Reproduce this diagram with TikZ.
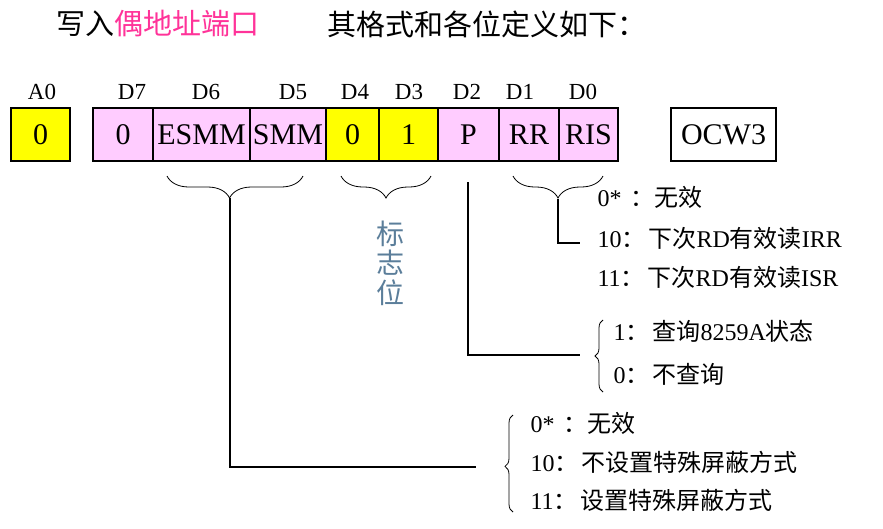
\documentclass[tikz,border=0pt]{standalone}
\usepackage{fontspec}
\setmainfont{Liberation Serif}
\newfontfamily\cjk{Noto Sans CJK SC}
\newcommand{\zh}[1]{{\cjk #1}}
\usetikzlibrary{decorations.pathreplacing}

\definecolor{pinkcell}{HTML}{FFCCFF}
\definecolor{yellowcell}{HTML}{FFFF00}
\definecolor{titlepink}{HTML}{FF3399}
\definecolor{flaggray}{HTML}{5B7E9A}

\begin{document}
\begin{tikzpicture}[x=1pt, y=-1pt, line width=1.2pt,
  cell/.style={draw, minimum height=53pt, inner sep=0pt, font=\fontsize{30}{32}\selectfont},
  bitlabel/.style={inner sep=0pt, font=\fontsize{23}{25}\selectfont},
  title/.style={anchor=west, inner sep=0pt, font=\cjk\fontsize{29}{32}\selectfont},
  item/.style={anchor=west, inner sep=0pt, font=\fontsize{24}{27}\selectfont},
  curly/.style={decorate, decoration={brace, amplitude=#1}, line width=0.8pt}]

\useasboundingbox (0,0) rectangle (883,528);

% Title line
\node[title] (title1) at (56,24) {写入\textcolor{titlepink}{偶地址端口}};
\node[title] (title2) at (327,24) {其格式和各位定义如下：};

% The register cells: left edge / right edge / text / fill / name
\foreach \lft/\rgt/\txt/\col/\nm in {11/70/0/yellowcell/a0, 93/153/0/pinkcell/d7,
  153/250/ESMM/pinkcell/d6, 250/326/SMM/pinkcell/d5, 326/379/0/yellowcell/d4,
  379/438/1/yellowcell/d3, 438/499/P/pinkcell/d2, 499/559/RR/pinkcell/d1,
  559/618/RIS/pinkcell/d0} {
  \node[cell, fill=\col, minimum width=\rgt-\lft] (\nm) at ({(\lft+\rgt)/2},134.5) {\txt};
}
\node[cell, minimum width=105] (ocw) at (723.5,134.5) {OCW3};

% Bit names above the cells
\foreach \i\j in {42/A0, 132/D7, 206/D6, 293/D5, 355/D4, 409/D3, 467/D2, 520/D1, 583/D0} {
  \node[bitlabel] (l\j) at (\i,92) {\j};
}

% Braces under the cells
\coordinate (b1l) at (167,176);
\coordinate (b1r) at (303,176);
\coordinate (b1tip) at (230,198);
\coordinate (b2l) at (341,176);
\coordinate (b2r) at (431,176);
\coordinate (b3l) at (513,176);
\coordinate (b3r) at (603,176);
\coordinate (b3tip) at (558,199);

\draw[curly=22, decoration={aspect=0.54}] (b1r) -- (b1l);
\draw[curly=22] (b2r) -- (b2l);
\draw[curly=22] (b3r) -- (b3l);

% Flag bits
\node[font=\cjk\fontsize{28}{29.5}\selectfont, text=flaggray, align=center, inner sep=0pt]
  (flag) at (390,263) {标\\志\\位};

% RR and RIS
\coordinate (rrend) at (580,243);
\draw (b3tip) |- (rrend);
\node[item] (r0) at (597,197) {0*\hspace{9pt}\zh{：无效}};
\node[item] (r1) at (597,238) {10\zh{：}\hspace{3pt}\zh{下次}RD\zh{有效读}IRR};
\node[item] (r2) at (597,277) {11\zh{：}\hspace{3pt}\zh{下次}RD\zh{有效读}ISR};

% P
\coordinate (ptop) at (468,182);
\coordinate (pend) at (580,355);
\draw (ptop) |- (pend);
\draw[curly=8] (603,392) -- (603,320);
\node[item] (p1) at (613,331) {1\zh{：}\hspace{3pt}\zh{查询}8259A\zh{状态}};
\node[item] (p0) at (613,374) {0\zh{：}\hspace{3pt}\zh{不查询}};

% ESMM and SMM
\coordinate (maskend) at (476,467);
\draw (b1tip) |- (maskend);
\draw[curly=8, decoration={aspect=0.47}] (513,512) -- (513,415);
\node[item] (m0) at (530,423) {0*\hspace{9pt}\zh{：无效}};
\node[item] (m1) at (530,462) {10\zh{：}\hspace{3pt}\zh{不设置特殊屏蔽方式}};
\node[item] (m2) at (530,500) {11\zh{：}\hspace{3pt}\zh{设置特殊屏蔽方式}};

\end{tikzpicture}
\end{document}
